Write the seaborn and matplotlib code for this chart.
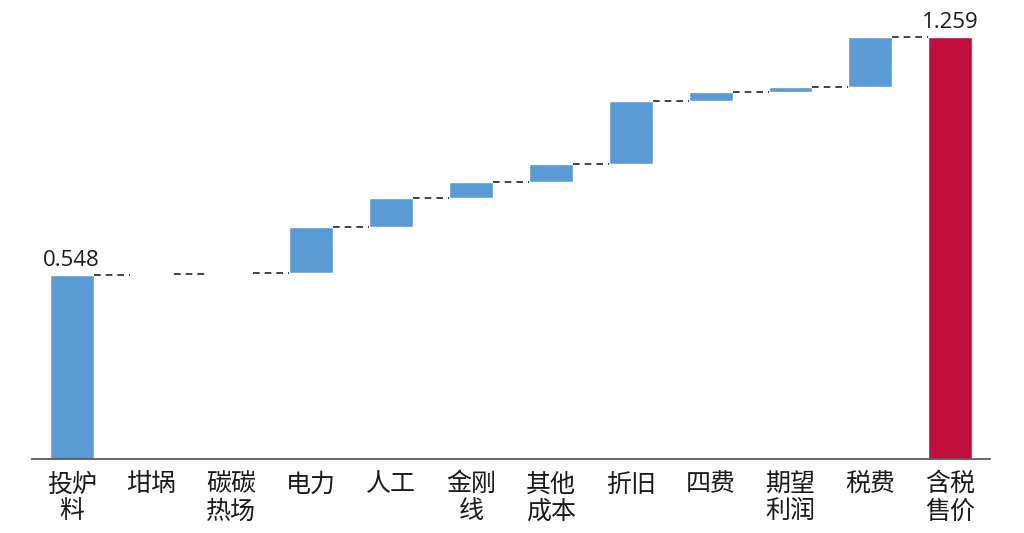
import matplotlib
matplotlib.use("Agg")
import matplotlib.pyplot as plt
import seaborn as sns
import numpy as np
import pandas as pd

categories = ["投炉\n料", "坩埚", "碳碳\n热场", "电力", "人工", "金刚\n线", "其他\n成本",
              "折旧", "四费", "期望\n利润", "税费", "含税\n售价"]
start_value = 0.548
steps = [0.004, 0.003, 0.137, 0.088, 0.047, 0.052, 0.189, 0.028, 0.015, 0.148]
total_value = 1.259

sns.set_theme(style="white")
plt.rcParams['font.family'] = ['Noto Sans CJK SC', 'DejaVu Sans']

heights = [start_value] + steps + [total_value]
cum = np.cumsum([start_value] + steps)
bottoms = [0.0] + list(cum[:-1]) + [0.0]

df = pd.DataFrame({"cat": categories, "h": heights})

fig = plt.figure(figsize=(10.24, 5.33), dpi=100)
ax = fig.add_axes([0.031, 0.139, 0.936, 0.861])

blue = "#5B9BD5"
red = "#C00D3B"
width = 0.55
sns.barplot(data=df, x="cat", y="h", order=categories, color=blue,
            width=width, bottom=bottoms, saturation=1, ax=ax, errorbar=None)
ax.patches[-1].set_facecolor(red)

# connectors
tops = [b + h for b, h in zip(bottoms, heights)]
for i in range(len(categories) - 1):
    lvl = tops[i]
    ax.plot([i + width / 2, i + 1 - width / 2], [lvl, lvl], color="#222222",
            linestyle=(0, (4, 3)), linewidth=1.2)

ax.text(0, start_value + 0.012, f"{start_value:.3f}", ha="center", va="bottom",
        fontsize=16, family=["Open Sans", "DejaVu Sans"], color="#1a1a1a")
ax.text(len(categories) - 1, total_value + 0.012, f"{total_value:.3f}", ha="center", va="bottom",
        fontsize=16, family=["Open Sans", "DejaVu Sans"], color="#1a1a1a")

ax.set_xlim(-0.5, len(categories) - 0.5)
ax.set_ylim(0, 1.370)
ax.set_xlabel("")
ax.set_ylabel("")
ax.set_yticks([])
for s in ["top", "right", "left"]:
    ax.spines[s].set_visible(False)
ax.spines["bottom"].set_color("#595959")
ax.spines["bottom"].set_linewidth(1.3)
ax.tick_params(axis="x", length=0, pad=9, labelsize=18, colors="#1a1a1a")
for lbl in ax.get_xticklabels():
    lbl.set_linespacing(1.05)
    lbl.set_verticalalignment("top")

fig.savefig("out.png", dpi=100)
